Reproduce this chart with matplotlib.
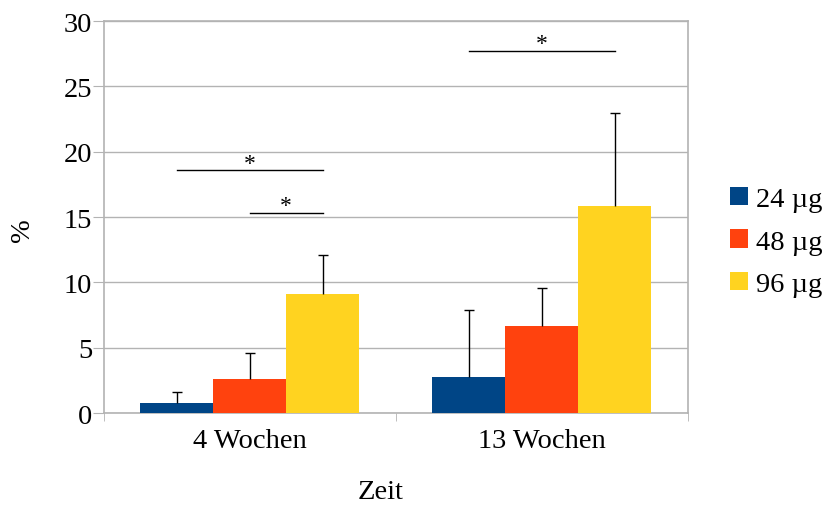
import numpy as np
import matplotlib
matplotlib.use('Agg')
import matplotlib.pyplot as plt
from matplotlib.patches import Patch

# ── DATA ──────────────────────────────────────────────────────────────────────
categories = ['4 Wochen', '13 Wochen']
series     = ['24 µg', '48 µg', '96 µg']
values     = [[0.73, 2.72],    # 24 µg
              [2.64, 6.63],    # 48 µg
              [9.08, 15.82]]   # 96 µg
errors     = [[0.89, 5.19],
              [1.92, 2.93],
              [2.99, 7.11]]
colors     = ['#004586', '#ff420e', '#ffd320']

# significance brackets: (series_a, series_b, category, height)
sig_pairs  = [(0, 2, 0, 18.56), (1, 2, 0, 15.31), (0, 2, 1, 27.72)]

plt.rcParams['font.family'] = ['Liberation Serif', 'DejaVu Serif']
FS = 20.5

fig = plt.figure(figsize=(8.24, 5.06), dpi=100)
ax = fig.add_axes([103.5/824, 1 - 414/506, (688 - 103.5)/824, (414 - 22)/506])

x = np.arange(len(categories))
bw = 0.25
for i, (name, vals, errs, col) in enumerate(zip(series, values, errors, colors)):
    pos = x + (i - 1) * bw
    ax.bar(pos, vals, width=bw, color=col, zorder=3)
    eb = ax.errorbar(pos, vals, yerr=[np.zeros(len(errs)), errs], fmt='none',
                     ecolor='black', elinewidth=1, capsize=3.5, capthick=1, zorder=4)
    eb[1][0].set_visible(False)   # hide the lower cap, only upper whiskers

for a, b, c, h in sig_pairs:
    xa, xb = c + (a - 1) * bw, c + (b - 1) * bw
    ax.plot([xa, xb], [h, h], color='black', lw=1, zorder=5)
    ax.text((xa + xb) / 2, h + 0.55, '*', ha='center', va='center', fontsize=17)

ax.set_xlim(-0.5, 1.5)
ax.set_ylim(0, 30)
ax.set_yticks(range(0, 31, 5))
ax.set_xticks(x)
ax.set_xticklabels(categories)
ax.set_xticks([-0.5, 0.5, 1.5], minor=True)
ax.tick_params(axis='x', which='major', length=0, labelsize=FS, pad=11)
ax.tick_params(axis='x', which='minor', length=6, color='#b3b3b3')
ax.tick_params(axis='y', length=8, color='#b3b3b3', labelsize=FS, pad=0)
ax.grid(True, axis='y', color='#b3b3b3', lw=1, zorder=0)
for s in ax.spines.values():
    s.set_color('#b3b3b3')
    s.set_linewidth(1.2)

ax.set_xlabel('Zeit', fontsize=FS)
ax.xaxis.set_label_coords((381 - 103.5) / 584.5, -(480 - 414) / 392)
ax.set_ylabel('%', fontsize=FS)
ax.yaxis.set_label_coords(-(103.5 - 35) / 584.5, (414 - 230) / 392)

handles = [Patch(facecolor=c, label=n) for n, c in zip(series, colors)]
fig.legend(handles=handles, loc='center left', bbox_to_anchor=(727/824, 1 - 243/506),
           frameon=False, fontsize=FS, handlelength=0.62, handleheight=0.62,
           handletextpad=0.3, labelspacing=0.6, borderaxespad=0, borderpad=0.1)

plt.savefig('out.png', dpi=100)
